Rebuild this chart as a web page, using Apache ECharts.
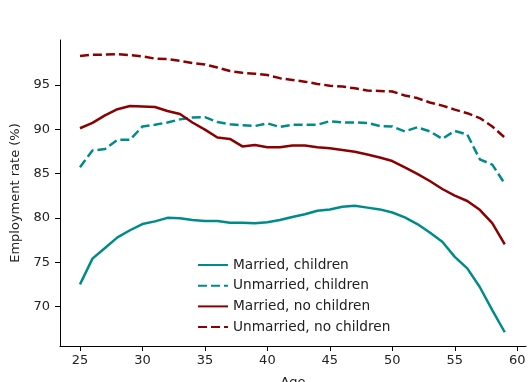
<!DOCTYPE html>
<html>
<head>
<meta charset="utf-8">
<script src="https://cdn.jsdelivr.net/npm/echarts@6/dist/echarts.min.js"></script>
<style>
  html, body { margin: 0; padding: 0; background: #fff; }
  #chart { width: 529px; height: 382px; }
</style>
</head>
<body>
<div id="chart"></div>
<script>
// Employment rate by age, split by marital status and presence of children
const ages = [25,26,27,28,29,30,31,32,33,34,35,36,37,38,39,40,41,42,43,44,45,46,47,48,49,50,51,52,53,54,55,56,57,58,59];

const marriedChildren = [72.5,75.4,76.6,77.8,78.6,79.3,79.6,80.0,79.95,79.75,79.65,79.65,79.45,79.45,79.4,79.5,79.75,80.1,80.4,80.8,80.95,81.25,81.35,81.15,80.95,80.6,80.05,79.3,78.35,77.3,75.6,74.3,72.2,69.6,67.1];
const unmarriedChildren = [85.7,87.6,87.75,88.8,88.8,90.3,90.5,90.75,91.1,91.3,91.35,90.8,90.55,90.45,90.35,90.65,90.25,90.5,90.5,90.5,90.9,90.75,90.75,90.7,90.35,90.3,89.75,90.2,89.75,88.9,89.8,89.4,86.6,86.0,83.85];
const marriedNoChildren = [90.1,90.7,91.55,92.25,92.6,92.55,92.5,92.05,91.7,90.75,89.95,89.05,88.9,88.05,88.2,87.95,87.95,88.15,88.15,87.95,87.85,87.65,87.45,87.15,86.8,86.4,85.7,84.95,84.15,83.25,82.5,81.9,80.9,79.4,77.0];
const unmarriedNoChildren = [98.25,98.4,98.4,98.45,98.35,98.2,97.95,97.9,97.7,97.45,97.3,96.95,96.55,96.35,96.25,96.1,95.75,95.55,95.35,95.1,94.9,94.8,94.6,94.35,94.3,94.25,93.8,93.5,93.0,92.65,92.2,91.8,91.25,90.3,89.05];

const seriesNames = ['Married, children', 'Unmarried, children', 'Married, no children', 'Unmarried, no children'];
const xTicks = [25,30,35,40,45,50,55,60];
const yTicks = [70,75,80,85,90,95];

const teal = '#008b8b';
const darkRed = '#8b0000';

function pairs(values) {
  return ages.map((a, i) => [a, values[i]]);
}

function makeSeries(name, values, color, dashed) {
  return {
    name: name,
    type: 'line',
    data: pairs(values),
    showSymbol: false,
    symbol: 'none',
    smooth: false,
    lineStyle: { color: color, width: 2.5, type: dashed ? [9, 4] : 'solid' },
    itemStyle: { color: color },
    emphasis: { disabled: true }
  };
}

const chart = echarts.init(document.getElementById('chart'), null, { renderer: 'canvas' });
const font = 'DejaVu Sans';

chart.setOption({
  animation: false,
  backgroundColor: '#fff',
  textStyle: { fontFamily: font },
  grid: { left: 60, top: 40, right: 3, bottom: 36, containLabel: false, outerBoundsMode: 'none' },
  xAxis: {
    type: 'value',
    min: 23.4,
    max: 60.7,
    name: 'Age',
    nameLocation: 'middle',
    nameGap: 30,
    nameTextStyle: { fontFamily: font, fontSize: 13, color: '#222' },
    axisLine: { lineStyle: { color: '#000', width: 1 } },
    axisTick: { show: true, inside: false, length: 5, lineStyle: { color: '#000' }, customValues: xTicks },
    axisLabel: { fontFamily: font, fontSize: 13, color: '#222', margin: 8, customValues: xTicks },
    splitLine: { show: false }
  },
  yAxis: {
    type: 'value',
    min: 65.55,
    max: 100.05,
    name: 'Employment rate (%)',
    nameLocation: 'middle',
    nameGap: 34,
    nameRotate: 90,
    nameTextStyle: { fontFamily: font, fontSize: 13, color: '#222' },
    axisLine: { show: true, lineStyle: { color: '#000', width: 1 } },
    axisTick: { show: true, inside: false, length: 5, lineStyle: { color: '#000' }, customValues: yTicks },
    axisLabel: { fontFamily: font, fontSize: 13, color: '#222', margin: 10, customValues: yTicks },
    splitLine: { show: false }
  },
  legend: {
    orient: 'vertical',
    left: 192,
    top: 252,
    height: 100,
    itemWidth: 30,
    itemHeight: 2,
    itemGap: 4.7,
    itemStyle: { opacity: 0 },
    textStyle: { fontFamily: font, fontSize: 13.7, lineHeight: 16, color: '#222', padding: [0, 0, 0, 0] },
    data: seriesNames
  },
  series: [
    makeSeries(seriesNames[0], marriedChildren, teal, false),
    makeSeries(seriesNames[1], unmarriedChildren, teal, true),
    makeSeries(seriesNames[2], marriedNoChildren, darkRed, false),
    makeSeries(seriesNames[3], unmarriedNoChildren, darkRed, true)
  ]
});
</script>
</body>
</html>
